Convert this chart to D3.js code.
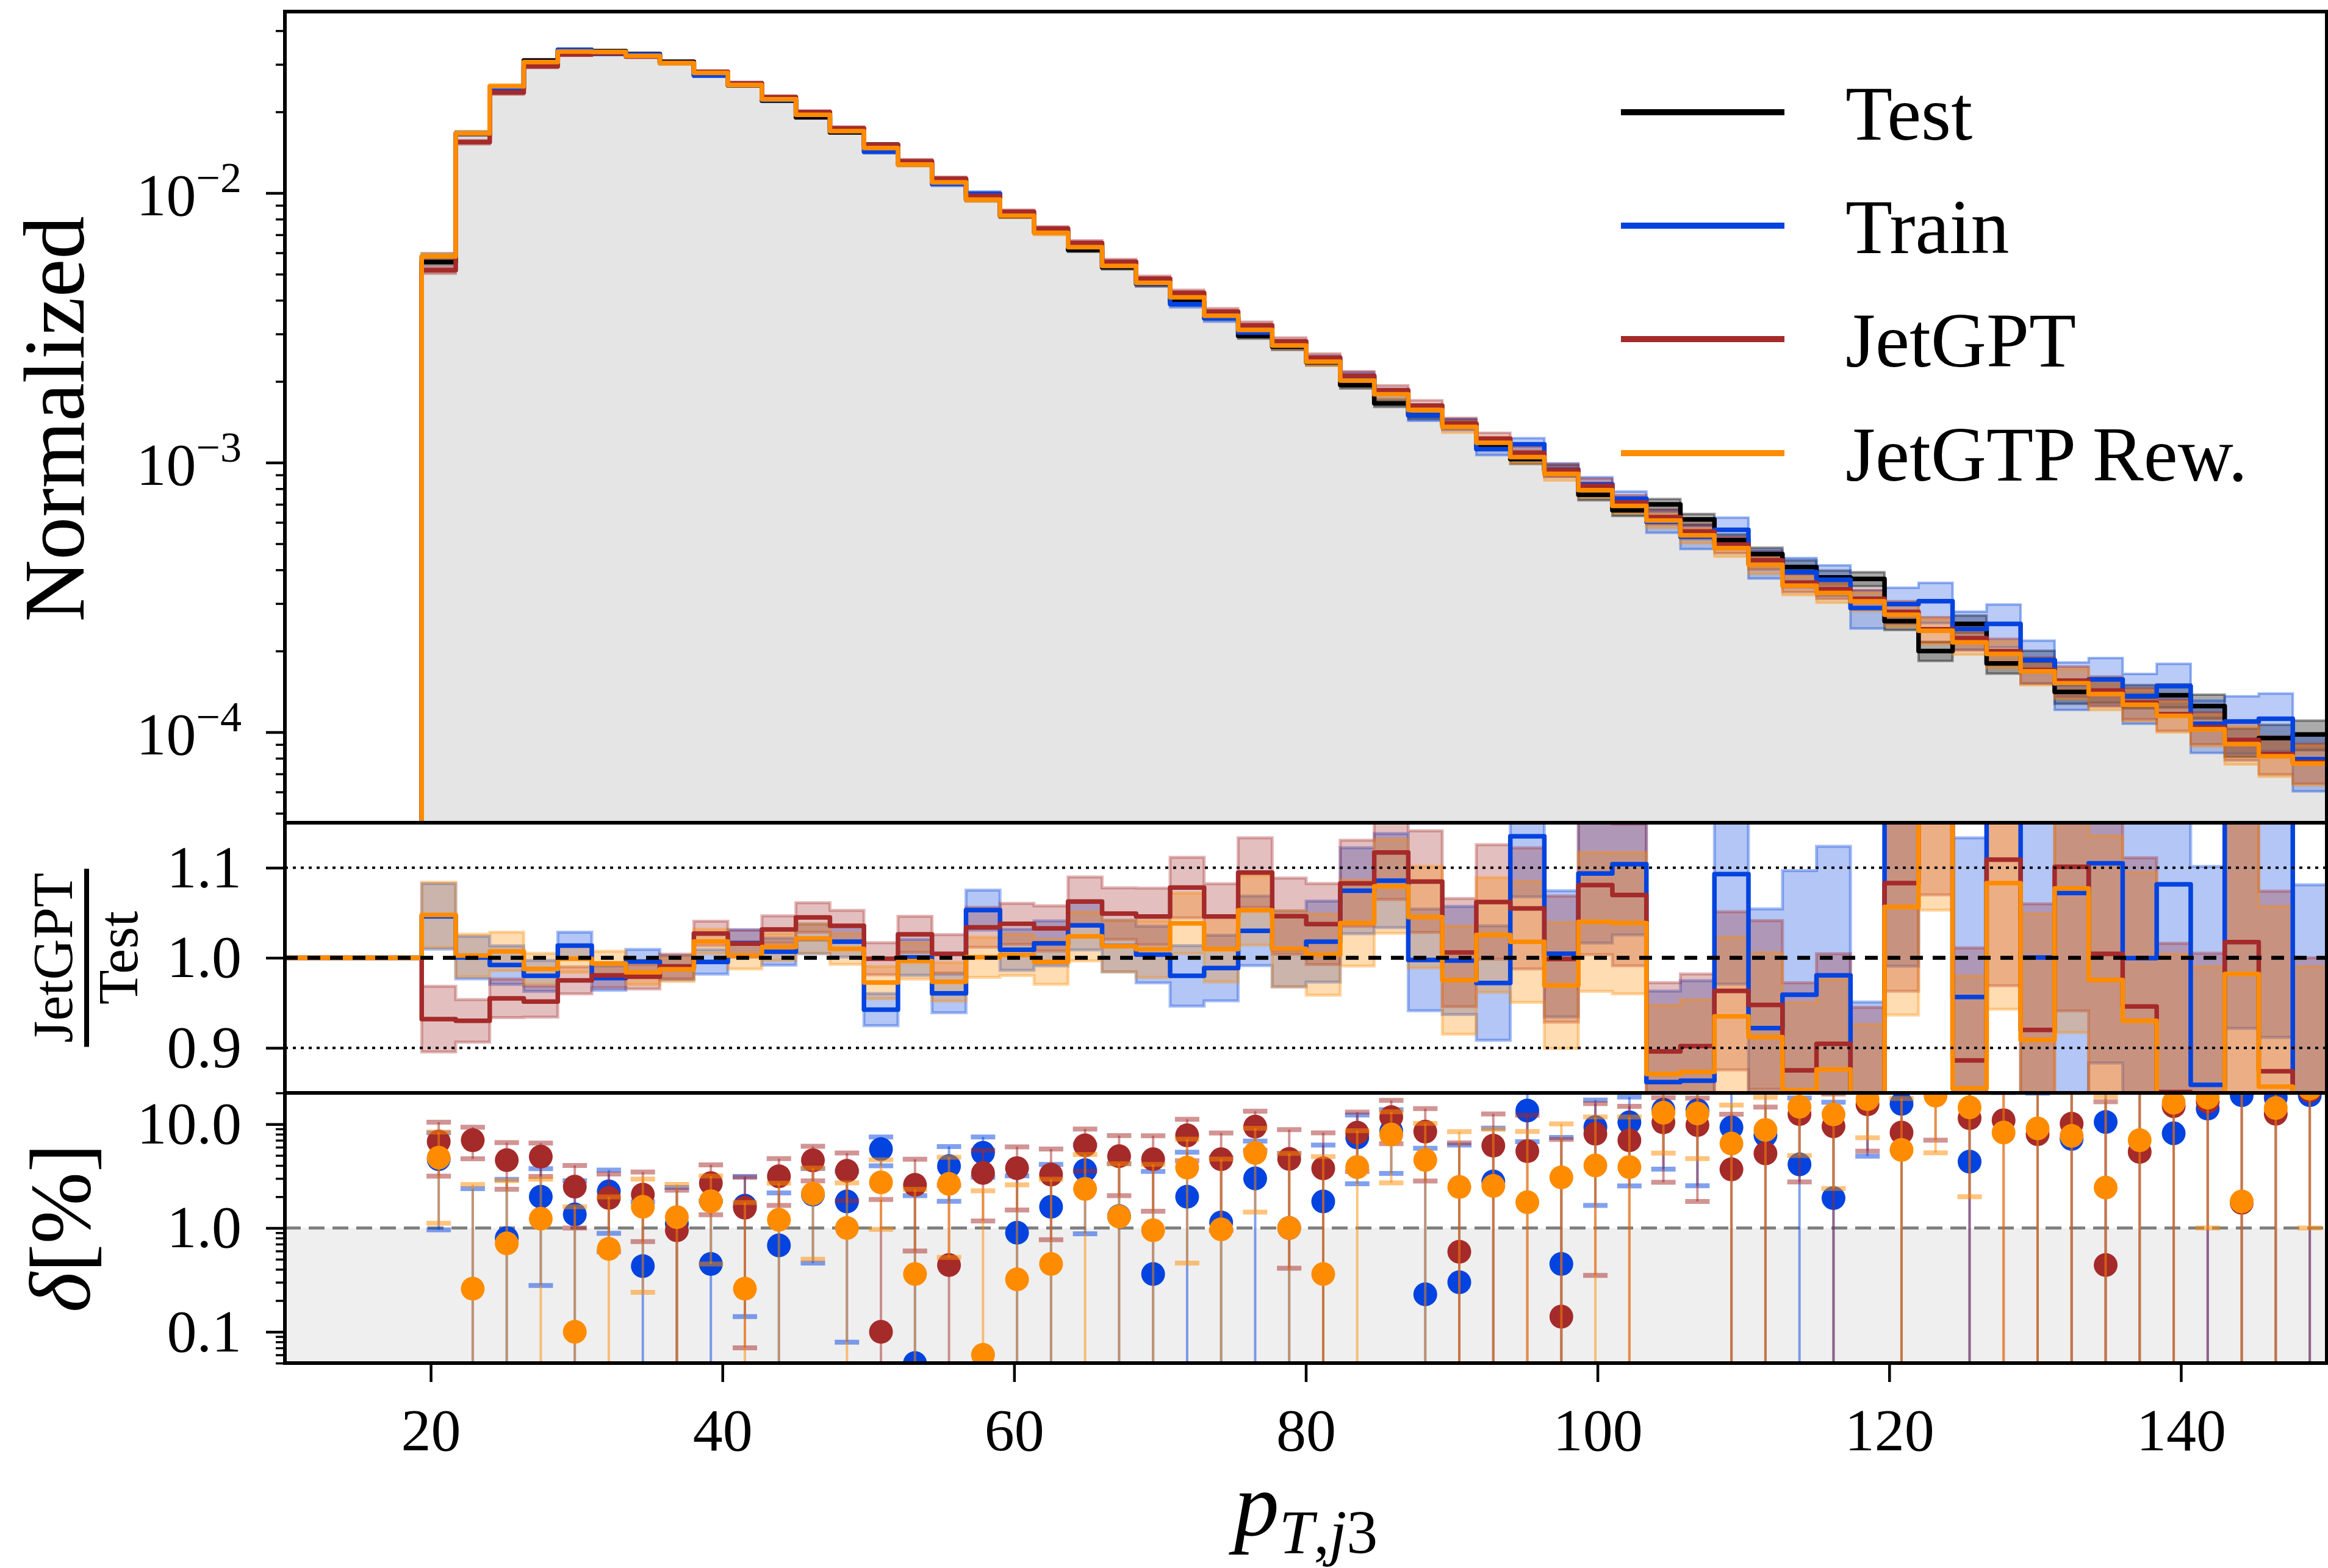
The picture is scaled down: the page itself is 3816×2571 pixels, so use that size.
<!DOCTYPE html>
<html>
<head>
<meta charset="utf-8">
<script src="https://cdn.jsdelivr.net/npm/d3@7"></script>
<style>
  html, body { margin: 0; padding: 0; background: #ffffff; }
  svg { display: block; font-family: "Liberation Serif", "Times New Roman", serif; }
</style>
</head>
<body>
<svg id="chart" width="3816" height="2571"></svg>
<script>
// ---- binning of p_T,j3 ----
const binLow = 19.38, binHigh = 150, nBins = 56;

// ---- normalized test histogram (per bin) ----
const test = [5.55e-3, 1.66e-2, 2.47e-2, 3.10e-2, 3.35e-2, 3.36e-2, 3.28e-2, 3.07e-2, 2.74e-2, 2.51e-2,
  2.20e-2, 1.91e-2, 1.68e-2, 1.51e-2, 1.28e-2, 1.125e-2, 9.45e-3, 8.21e-3, 7.15e-3, 6.15e-3,
  5.30e-3, 4.60e-3, 3.95e-3, 3.47e-3, 2.95e-3, 2.69e-3, 2.36e-3, 1.94e-3, 1.66e-3, 1.50e-3,
  1.39e-3, 1.155e-3, 1.03e-3, 9.37e-4, 7.6e-4, 6.65e-4, 7.0e-4, 6.15e-4, 5.15e-4, 4.58e-4,
  4.1e-4, 3.75e-4, 3.7e-4, 2.58e-4, 2.0e-4, 2.52e-4, 1.8e-4, 1.85e-4, 1.41e-4, 1.42e-4,
  1.36e-4, 1.37e-4, 1.25e-4, 9.2e-5, 9.5e-5, 9.8e-5];

// ---- ratio of each sample to the test histogram ----
const ratioTrain = [1.046, 1.0003, 0.992, 0.980, 1.0135, 0.9775, 0.9957, 0.989, 0.9955, 1.0164,
  1.0068, 1.021, 1.018, 0.9425, 1.0005, 0.9605, 1.053, 1.009, 1.016, 1.036,
  1.013, 1.0036, 0.980, 0.9887, 1.030, 1.010, 1.018, 1.0745, 1.0857, 0.9977,
  0.997, 0.972, 1.135, 1.0045, 1.0937, 1.104, 0.862, 0.8636, 1.093, 0.922,
  0.959, 0.9806, 0.78, 1.157, 1.53, 0.9565, 1.40, 1.0003, 1.072, 1.105,
  0.9997, 1.0816, 0.859, 1.19, 1.18, 0.81];
const ratioGPT = [0.932, 0.930, 0.955, 0.9514, 0.975, 0.9805, 0.979, 0.9905, 1.027, 1.0157,
  1.0315, 1.0448, 1.0355, 0.999, 1.026, 1.0044, 1.0339, 1.0377, 1.0327, 1.0625,
  1.0491, 1.0459, 1.078, 1.0459, 1.0946, 1.0463, 1.0375, 1.0827, 1.117, 1.0847,
  1.0059, 1.062, 1.0549, 0.9986, 1.0807, 1.0698, 0.896, 0.902, 0.9633, 0.9477,
  0.875, 0.9045, 0.845, 1.083, 1.205, 0.886, 1.109, 0.920, 1.101, 1.0044,
  0.946, 0.851, 0.835, 1.0175, 0.874, 0.79];
const ratioRew = [1.0475, 1.0026, 1.0071, 0.9877, 0.999, 0.9937, 0.984, 0.9873, 1.0181, 1.0026,
  1.012, 1.0214, 1.010, 0.9725, 0.9964, 0.9734, 1.0006, 1.0032, 0.9955, 1.0238,
  1.0129, 1.0095, 1.0382, 1.0097, 1.0528, 1.010, 1.0036, 1.0386, 1.0794, 1.0452,
  0.9752, 1.0254, 1.0177, 0.9693, 1.040, 1.0386, 0.871, 0.8734, 0.935, 0.912,
  0.853, 0.876, 0.826, 1.0565, 1.188, 0.855, 1.083, 0.909, 1.077, 0.9755,
  0.930, 0.839, 0.82, 0.982, 0.857, 0.78];

// ---- relative statistical uncertainty of each histogram ----
const errTest = [.022, .014, .013, .010, .009, .008, .008, .008, .008, .009,
  .009, .010, .010, .011, .012, .013, .013, .014, .015, .016,
  .017, .019, .020, .022, .023, .025, .027, .029, .031, .034,
  .036, .038, .040, .042, .046, .047, .046, .048, .053, .056,
  .058, .060, .060, .072, .081, .075, .084, .084, .096, .096,
  .099, .099, .102, .120, .120, .126];
const errTrain = [.029, .019, .017, .014, .012, .011, .011, .011, .011, .012,
  .012, .013, .014, .014, .016, .017, .018, .018, .020, .022,
  .023, .025, .027, .029, .031, .034, .036, .038, .042, .045,
  .048, .051, .054, .056, .062, .063, .090, .100, .110, .120,
  .125, .130, .160, .150, .170, .160, .180, .180, .200, .200,
  .210, .210, .220, .240, .240, .240];
const errGPT = [.029, .019, .017, .014, .012, .011, .011, .011, .011, .012,
  .012, .013, .014, .014, .016, .017, .018, .018, .020, .022,
  .023, .025, .027, .029, .031, .034, .036, .038, .042, .045,
  .048, .051, .054, .056, .062, .063, .061, .064, .070, .075,
  .078, .080, .080, .096, .108, .100, .112, .112, .128, .128,
  .132, .132, .136, .160, .160, .168];
const errRew = [.029, .019, .017, .014, .012, .011, .011, .011, .011, .012,
  .012, .013, .014, .014, .016, .017, .018, .018, .020, .022,
  .023, .025, .027, .029, .031, .034, .036, .038, .042, .045,
  .048, .051, .054, .056, .062, .063, .061, .064, .070, .075,
  .078, .080, .080, .096, .108, .100, .112, .112, .128, .128,
  .132, .132, .136, .160, .160, .168];

// ---- axis ticks ----
const xTicks = [20, 40, 60, 80, 100, 120, 140];
const mainTicks = [1e-4, 1e-3, 1e-2];
const mainTickExp = ["\u22124", "\u22123", "\u22122"];
const ratioTicks = [0.9, 1.0, 1.1];
const deltaTicks = [0.1, 1, 10];
const legendNames = ["Test", "Train", "JetGPT", "JetGTP Rew."];

// ---- layout ----
const L = 467, R = 3814;
const mainTop = 19, mainBot = 1349, ratBot = 1792, delBot = 2235;
const FONT_TICK = 98;

const edges = d3.range(nBins + 1).map(i => binLow + i * (binHigh - binLow) / nBins);

const x = d3.scaleLinear().domain([10, 150]).range([L, R]);
const yMain = d3.scaleLog().domain([Math.pow(10, -4.336), Math.pow(10, -1.327)]).range([mainBot, mainTop]);
const yRat = d3.scaleLinear().domain([0.85, 1.15]).range([ratBot, mainBot]);
const yDel = d3.scaleLog().domain([0.05, 20]).range([delBot, ratBot]);

const svg = d3.select("#chart");
const defs = svg.append("defs");
function addClip(id, y0, y1) {
  defs.append("clipPath").attr("id", id)
    .append("rect").attr("x", L).attr("y", y0).attr("width", R - L).attr("height", y1 - y0);
}
addClip("cMain", mainTop, mainBot);
addClip("cRat", mainBot, ratBot);
addClip("cDel", ratBot, delBot);

const COL = { test: "#000000", train: "#0343df", gpt: "#a52a2a", rew: "#ff8c00" };

const models = [
  { key: "train", color: COL.train, ratio: ratioTrain, err: errTrain },
  { key: "gpt",   color: COL.gpt,   ratio: ratioGPT,   err: errGPT },
  { key: "rew",   color: COL.rew,   ratio: ratioRew,   err: errRew }
];

// step helpers: one point per bin edge, last value repeated at the upper edge
const stepPts = vals => vals.map((v, i) => ({ x: edges[i], v }))
  .concat([{ x: edges[nBins], v: vals[nBins - 1] }]);
const bandPts = (lo, hi) => lo.map((l, i) => ({ x: edges[i], lo: l, hi: hi[i] }))
  .concat([{ x: edges[nBins], lo: lo[nBins - 1], hi: hi[nBins - 1] }]);

// ================= main panel =================
const gMain = svg.append("g").attr("clip-path", "url(#cMain)");

gMain.append("path")
  .datum(stepPts(test))
  .attr("d", d3.area().x(d => x(d.x)).y0(mainBot).y1(d => yMain(d.v)).curve(d3.curveStepAfter))
  .attr("fill", "#e5e5e5");

const mainSeries = [{ color: COL.test, vals: test, err: errTest, op: 0.33 }]
  .concat(models.map(m => ({ color: m.color, vals: test.map((t, i) => t * m.ratio[i]), err: m.err, op: 0.28 })));

const mainBand = d3.area().x(d => x(d.x)).y0(d => yMain(d.lo)).y1(d => yMain(d.hi)).curve(d3.curveStepAfter);
mainSeries.forEach(s => {
  const lo = s.vals.map((v, i) => v * (1 - s.err[i]));
  const hi = s.vals.map((v, i) => v * (1 + s.err[i]));
  gMain.append("path").datum(bandPts(lo, hi)).attr("d", mainBand)
    .attr("fill", s.color).attr("fill-opacity", s.op)
    .attr("stroke", s.color).attr("stroke-opacity", 0.4).attr("stroke-width", 4);
});
const mainLine = d3.line().x(d => x(d.x)).y(d => yMain(d.v)).curve(d3.curveStepAfter);
mainSeries.forEach(s => {
  const pts = [{ x: edges[0], v: yMain.domain()[0] }].concat(stepPts(s.vals));
  gMain.append("path").datum(pts).attr("d", mainLine)
    .attr("fill", "none").attr("stroke", s.color).attr("stroke-width", 7.5)
    .attr("stroke-linejoin", "round");
});

// legend
const legY = [184, 370, 556, 743];
const legCol = [COL.test, COL.train, COL.gpt, COL.rew];
legendNames.forEach((n, i) => {
  svg.append("line").attr("x1", 2657).attr("x2", 2925).attr("y1", legY[i]).attr("y2", legY[i])
    .attr("stroke", legCol[i]).attr("stroke-width", 10);
  svg.append("text").attr("x", 3025).attr("y", legY[i] + 45)
    .attr("font-size", 126).attr("fill", "#000").text(n);
});

// ================= ratio panel =================
const gRat = svg.append("g").attr("clip-path", "url(#cRat)");
const ratBand = d3.area().x(d => x(d.x)).y0(d => yRat(d.lo)).y1(d => yRat(d.hi)).curve(d3.curveStepAfter);
const sigma = m => m.err.map((e, i) => Math.sqrt(e * e + errTest[i] * errTest[i]));
models.forEach(m => {
  const s = sigma(m);
  const lo = m.ratio.map((r, i) => r - s[i]);
  const hi = m.ratio.map((r, i) => r + s[i]);
  gRat.append("path").datum(bandPts(lo, hi)).attr("d", ratBand)
    .attr("fill", m.color).attr("fill-opacity", 0.3)
    .attr("stroke", m.color).attr("stroke-opacity", 0.35).attr("stroke-width", 5);
});
const ratLine = d3.line().x(d => x(d.x)).y(d => yRat(d.v)).curve(d3.curveStepAfter);
models.forEach(m => {
  const pts = [{ x: 10, v: 1 }].concat(stepPts(m.ratio));
  gRat.append("path").datum(pts).attr("d", ratLine)
    .attr("fill", "none").attr("stroke", m.color).attr("stroke-width", 7.5)
    .attr("stroke-linejoin", "round");
});
[1.1, 0.9].forEach(v => {
  svg.append("line").attr("x1", L).attr("x2", R).attr("y1", yRat(v)).attr("y2", yRat(v))
    .attr("stroke", "#000").attr("stroke-width", 4).attr("stroke-dasharray", "5 8");
});
svg.append("line").attr("x1", L).attr("x2", R).attr("y1", yRat(1)).attr("y2", yRat(1))
  .attr("stroke", "#000").attr("stroke-width", 6.5).attr("stroke-dasharray", "21 16");

// ================= delta panel =================
svg.append("rect").attr("x", L).attr("y", yDel(1)).attr("width", R - L).attr("height", delBot - yDel(1))
  .attr("fill", "#efefef");
svg.append("line").attr("x1", L).attr("x2", R).attr("y1", yDel(1)).attr("y2", yDel(1))
  .attr("stroke", "#808080").attr("stroke-width", 5).attr("stroke-dasharray", "26 13");

const gDel = svg.append("g").attr("clip-path", "url(#cDel)");
const centers = d3.range(nBins).map(i => (edges[i] + edges[i + 1]) / 2);
models.forEach(m => {
  const s = sigma(m);
  const pts = m.ratio.map((r, i) => ({
    c: centers[i],
    d: Math.abs(r - 1) * 100,
    e: s[i] * 100
  }));
  const g = gDel.append("g");
  pts.forEach(p => {
    const up = p.d + p.e, lo = p.d - p.e;
    const yUp = yDel(up);
    const yLo = lo > 0 ? yDel(lo) : delBot + 20;
    g.append("line").attr("x1", x(p.c)).attr("x2", x(p.c)).attr("y1", yUp).attr("y2", yLo)
      .attr("stroke", m.color).attr("stroke-opacity", 0.5).attr("stroke-width", 4);
    g.append("line").attr("x1", x(p.c) - 20).attr("x2", x(p.c) + 20).attr("y1", yUp).attr("y2", yUp)
      .attr("stroke", m.color).attr("stroke-opacity", 0.5).attr("stroke-width", 8);
    if (lo > 0) {
      g.append("line").attr("x1", x(p.c) - 20).attr("x2", x(p.c) + 20).attr("y1", yLo).attr("y2", yLo)
        .attr("stroke", m.color).attr("stroke-opacity", 0.5).attr("stroke-width", 8);
    }
  });
  g.selectAll("circle").data(pts.filter(p => p.d > 0)).join("circle")
    .attr("cx", p => x(p.c)).attr("cy", p => yDel(p.d)).attr("r", 19.5)
    .attr("fill", m.color);
});

// ================= axes =================
function styleAxis(g, w) {
  g.select(".domain").remove();
  g.selectAll(".tick line").attr("stroke", "#000").attr("stroke-width", w);
  g.selectAll(".tick text").attr("font-size", FONT_TICK).attr("fill", "#000")
    .attr("font-family", "Liberation Serif, Times New Roman, serif");
}
// x axis
const gx = svg.append("g").attr("transform", `translate(0,${delBot})`)
  .call(d3.axisBottom(x).tickValues(xTicks).tickFormat(d3.format("d")).tickSize(31).tickPadding(42).tickSizeOuter(0));
styleAxis(gx, 4.5);

// main y axis: major + minor ticks
const minorMain = [];
[1e-5, 1e-4, 1e-3, 1e-2].forEach(dec => d3.range(2, 10).forEach(k => {
  const v = k * dec;
  if (v > yMain.domain()[0] && v < yMain.domain()[1]) minorMain.push(v);
}));
const gyM = svg.append("g").attr("transform", `translate(${L},0)`)
  .call(d3.axisLeft(yMain).tickValues(mainTicks).tickFormat("").tickSize(31).tickSizeOuter(0));
styleAxis(gyM, 4.5);
const gyMm = svg.append("g").attr("transform", `translate(${L},0)`)
  .call(d3.axisLeft(yMain).tickValues(minorMain).tickFormat("").tickSize(15).tickSizeOuter(0));
styleAxis(gyMm, 3.5);
mainTicks.forEach((v, i) => {
  const t = svg.append("text").attr("x", 396).attr("y", yMain(v) + 37)
    .attr("text-anchor", "end").attr("font-size", FONT_TICK);
  t.append("tspan").text("10");
  t.append("tspan").attr("font-size", 70).attr("dy", -38).text(mainTickExp[i]);
});

// ratio y axis
const gyR = svg.append("g").attr("transform", `translate(${L},0)`)
  .call(d3.axisLeft(yRat).tickValues(ratioTicks).tickFormat(d3.format(".1f")).tickSize(31).tickPadding(40).tickSizeOuter(0));
styleAxis(gyR, 4.5);

// delta y axis
const minorDel = [];
[0.01, 0.1, 1, 10].forEach(dec => d3.range(2, 10).forEach(k => {
  const v = k * dec;
  if (v > yDel.domain()[0] - 1e-9 && v <= yDel.domain()[1] + 1e-9) minorDel.push(v);
}));
const gyD = svg.append("g").attr("transform", `translate(${L},0)`)
  .call(d3.axisLeft(yDel).tickValues(deltaTicks).tickFormat(d3.format(".1f")).tickSize(31).tickPadding(40).tickSizeOuter(0));
styleAxis(gyD, 4.5);
const gyDm = svg.append("g").attr("transform", `translate(${L},0)`)
  .call(d3.axisLeft(yDel).tickValues(minorDel).tickFormat("").tickSize(15).tickSizeOuter(0));
styleAxis(gyDm, 3.5);

// panel frames
[[mainTop, mainBot], [mainBot, ratBot], [ratBot, delBot]].forEach(([a, b]) => {
  svg.append("rect").attr("x", L).attr("y", a).attr("width", R - L).attr("height", b - a)
    .attr("fill", "none").attr("stroke", "#000").attr("stroke-width", 6);
});

// ================= axis labels =================
svg.append("text").attr("transform", "translate(137,687) rotate(-90)")
  .attr("text-anchor", "middle").attr("font-size", 141).text("Normalized");

const gFrac = svg.append("g").attr("transform", `translate(0,${yRat(1)}) rotate(-90)`);
gFrac.append("text").attr("x", 0).attr("y", 118).attr("text-anchor", "middle")
  .attr("font-size", 93).text("JetGPT");
gFrac.append("line").attr("x1", -146).attr("x2", 146).attr("y1", 142).attr("y2", 142)
  .attr("stroke", "#000").attr("stroke-width", 8);
gFrac.append("text").attr("x", 0).attr("y", 225).attr("text-anchor", "middle")
  .attr("font-size", 93).text("Test");

const dl = svg.append("text").attr("transform", `translate(147,${yDel(1)}) rotate(-90)`)
  .attr("text-anchor", "middle").attr("font-size", 141);
dl.append("tspan").attr("font-style", "italic").text("\u03b4");
dl.append("tspan").text("[%]");

const xl = svg.append("text").attr("x", (L + R) / 2).attr("y", 2517)
  .attr("text-anchor", "middle").attr("font-size", 148);
xl.append("tspan").attr("font-style", "italic").text("p");
xl.append("tspan").attr("font-style", "italic").attr("font-size", 102).attr("dy", 30).text("T");
xl.append("tspan").attr("font-size", 102).text(",");
xl.append("tspan").attr("font-style", "italic").attr("font-size", 102).text("j");
xl.append("tspan").attr("font-size", 102).text("3");
</script>
</body>
</html>
